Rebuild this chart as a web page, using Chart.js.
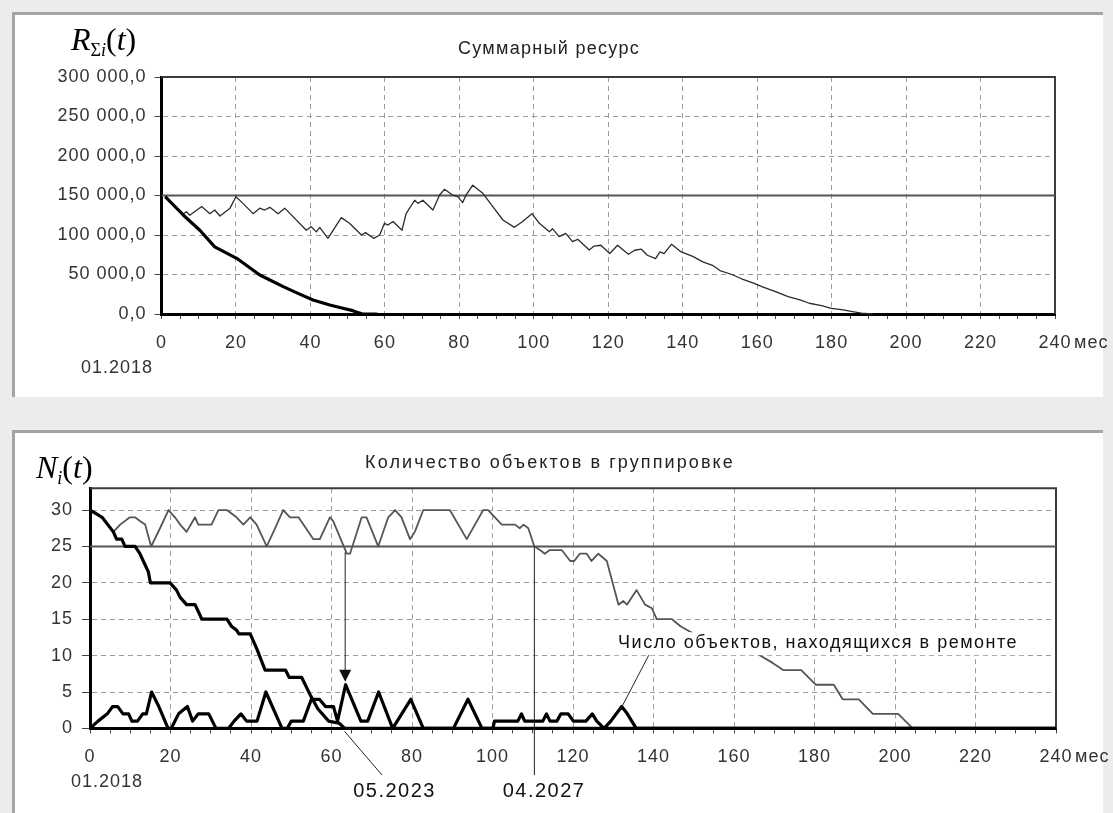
<!DOCTYPE html>
<html lang="ru">
<head>
<meta charset="utf-8">
<title>Суммарный ресурс / Количество объектов в группировке</title>
<script src="https://cdn.jsdelivr.net/npm/chart.js@4.4.1/dist/chart.umd.min.js"></script>
<style>
  html, body { margin: 0; padding: 0; }
  body { width: 1113px; height: 813px; background: #ececec; position: relative; overflow: hidden;
         font-family: "Liberation Sans", Arial, sans-serif; }
  .panel { position: absolute; left: 12px; width: 1091px; background: #fff; box-sizing: border-box;
           border-top: 3px solid #a4a4a4; border-left: 3px solid #a4a4a4; }
  #panelTop { top: 12px; height: 385px; }
  #panelBottom { top: 430px; height: 383px; }
  .box { position: absolute; left: 15px; width: 1098px; }
  #boxTop { top: 15px; height: 382px; }
  #boxBottom { top: 433px; height: 377px; }
  .title { position: absolute; font-size: 18px; line-height: 1; color: #222; white-space: nowrap;
           transform: translateX(-50%); }
  .math { position: absolute; font-family: "Liberation Serif", "Times New Roman", serif; font-size: 32px;
          line-height: 1; color: #000; white-space: nowrap; }
  .math sub { font-size: 18px; vertical-align: -6px; line-height: 0; }
</style>
</head>
<body>
<div class="panel" id="panelTop"></div>
<div class="panel" id="panelBottom"></div>
<div class="box" id="boxTop"><canvas id="resChart"></canvas></div>
<div class="box" id="boxBottom"><canvas id="grpChart"></canvas></div>

<div class="title" style="left:549px; top:39px; letter-spacing:1.3px">Суммарный ресурс</div>
<div class="title" style="left:550px; top:453px; letter-spacing:2.1px">Количество объектов в группировке</div>
<div class="math" style="left:71px; top:23px"><i>R</i><sub>Σ<i>i</i></sub>(<i>t</i>)</div>
<div class="math" style="left:36px; top:451px"><i>N</i><sub><i>i</i></sub>(<i>t</i>)</div>

<script>
// ── data (months since 01.2018) ──────────────────────────────
// top panel: total resource
const resTotal = [[1,148500],[5.9,127000],[6.7,129500],[7.6,125000],[10.8,136000],[13,127000],[14.3,131600],
  [15.7,124000],[18.4,134000],[20,148500],[21.9,140000],[24.6,127000],[26.4,134000],[27.7,131600],[29.1,135000],
  [31.3,127000],[33.1,134000],[38.9,106000],[40.2,110500],[41.6,104000],[42.5,109700],[44.7,95800],[48.3,122000],
  [50.5,114800],[53.7,100000],[54.8,103000],[57,95800],[58.6,100000],[59.9,114800],[60.8,112600],[62.2,117000],
  [64.6,106000],[65.7,127000],[68,144000],[68.9,140000],[70.2,144000],[72.9,131600],[74.7,150600],[76,157800],
  [78.2,150600],[79.6,148500],[80.9,141000],[81.8,150600],[83.6,163000],[86.3,152700],[89,135800],[91.7,119000],
  [94.8,109700],[97,117000],[99.5,127000],[101.5,114800],[104.2,104000],[105,108000],[106.8,97900],[108.6,102000],
  [110.4,91500],[111.8,94500],[114.9,81000],[116.2,86000],[118,87000],[120.4,76500],[122.5,87000],[125.4,75600],
  [127.1,80700],[128.9,82000],[130.5,74400],[132.7,70000],[133.9,78600],[135,76500],[137,88400],[139.6,78600],
  [142.7,73000],[145.4,66000],[148,61600],[150,55000],[153.2,50000],[155.8,44600],[159,39000],[161.6,34000],
  [165.3,27600],[168.3,22000],[171.5,17800],[174,13600],[177.3,10600],[179.9,7200],[183.1,5100],[185.6,3000],
  [188,1000],[191,0]];
const resFleet = [[1,148500],[5.9,125000],[10.3,106000],[14.3,85000],[20.2,70500],[26.4,49400],[32.7,34600],
  [36.2,27000],[40.7,17700],[45.2,11400],[48.7,7200],[51.4,4200],[52.8,1700],[54,0],[58,0]];
const resLimit = 150000;

// bottom panel: number of objects
const grpCount = [[0,30],[1.5,29.5],[3,29],[5.8,27],[7.5,28],[9.9,29],[11.2,29],[12.4,28.5],[13.7,28],[15.2,25],
  [17.4,27.5],[19.5,30],[21.1,29],[22.4,28],[24,27],[26.1,29],[26.9,28],[30.2,28],[31.9,30],[34,30],[36.4,29],
  [38.1,28],[39.8,29],[41.4,28],[43.9,25],[46,27.5],[48,30],[49.7,29],[51.8,29],[55.5,26],[57.1,26],[59.6,29],
  [60.4,28.5],[63.8,24],[64.6,24],[67.5,29],[68.7,29],[71.6,25],[74.1,29],[75.8,30],[77.4,29],[79.5,26],[80.7,27],
  [82.8,30],[89.4,30],[93.6,26],[97.7,30],[98.9,30],[100.6,29],[102.3,28],[105.6,28],[106.8,27.5],[107.7,28],
  [108.9,27.5],[110.4,25],[111.8,24.5],[113,24],[114.2,24.5],[117.2,24.5],[119.3,23],[120.3,23],[121.7,24],
  [123.4,24],[124.6,23],[126.3,24],[128.4,23],[131.3,17],[132.5,17.5],[133.4,17],[135.8,19],[137.9,17],
  [139.6,16.5],[140.8,15],[144.6,15],[146.8,14],[150,13],[155,12],[160,11.5],[165,10.5],[169.6,9],[172.3,8],
  [176.7,8],[180.3,6],[184.8,6],[187,4],[191,4],[194.5,2],[200.8,2],[202.6,1],[204.4,0]];
const baseCount = [[0,30],[1.5,29.5],[3,29],[5.8,27],[6.6,26],[7.9,26],[8.7,25],[11.2,25],[12.4,24],[14.5,21.5],
  [15,20],[19.9,20],[21.5,19],[22.4,18],[24,17],[26.1,17],[27.8,15],[34,15],[35.2,14],[36.4,13.5],[37,13],
  [39.8,13],[41.4,11],[43.5,8],[48.6,8],[49.5,7],[52.6,7],[54.8,4.5],[56.6,2.7],[59.3,1],[61.9,0.7],[63.3,0],[240,0]];
const repCount = [[0,0],[2,1],[4.3,2],[5.6,3],[6.9,3],[8.2,2],[9.6,2],[10.4,1],[11.8,1],[13.1,2],[14,2],[15.3,5],
  [17.1,3],[19.4,0],[20.2,0],[22,2],[24.2,3],[25.5,1],[26.9,2],[29.5,2],[31.3,0],[34.4,0],[35.8,1],[37.5,2],
  [38.9,1],[41.5,1],[43.7,5],[47.7,0],[49,0],[50,1],[53,1],[55,4],[57,4],[58.5,3],[60.5,3],[61.5,1],[63.5,6],
  [67.3,1],[69,1],[71.7,5],[75.2,0],[79.7,4],[82.8,0],[90.3,0],[93.9,4],[97.4,0],[100.1,0],[100.5,1],[106.3,1],
  [107.2,2],[108,1],[112.5,1],[113.4,2],[114.3,1],[116,1],[117,2],[118.8,2],[120.1,1],[123.2,1],[124.8,2],
  [125.9,1],[127.7,0],[129.4,1],[132.1,3],[133.5,2],[135.7,0],[240,0]];
const grpLimit = 25;

// axis and notes
const monthMax = 240;
const startLabel = '01.2018';
const unitLabel = 'мес';
const arrowMark = { t: 63.4, from: 24.2, to: 6.4 };
const dateMarks = [{ t: 63.25, label: '05.2023' }, { t: 110.4, label: '04.2027' }];
const repairNote = { t: 131.7, v: 2.5, label: 'Число объектов, находящихся в ремонте' };

// ── helpers ───────────────────────────────────────────────────
const pts = arr => arr.map(([x, y]) => ({ x, y }));
const flat = v => [[0, v], [monthMax, v]];
const fmtRes = v => String(v).replace(/\B(?=(\d{3})+(?!\d))/g, ' ') + ',0';
const FONT = '"Liberation Sans", Arial, sans-serif';
const TICK_FONT = { family: FONT, size: 18 };
const GRID = '#9c9c9c';

function line(ctx, x1, y1, x2, y2) {
  ctx.beginPath(); ctx.moveTo(x1, y1); ctx.lineTo(x2, y2); ctx.stroke();
}

function xAxis() {
  return {
    type: 'linear', min: 0, max: monthMax,
    afterFit: s => { s.height = 40; },
    ticks: { stepSize: 5, autoSkip: false, maxRotation: 0, padding: 13, color: '#333', font: TICK_FONT,
             callback: v => (v % 20 === 0 ? String(v) : '') },
    grid: { color: c => (c.tick && c.tick.value % 20 === 0 ? GRID : 'rgba(0,0,0,0)'),
            tickColor: '#444', tickLength: 5 },
    border: { color: '#000', width: 3, dash: [5, 4] },
  };
}

function series(data, color, width) {
  return { data: pts(data), borderColor: color, borderWidth: width, pointRadius: 0, tension: 0,
           fill: false, borderJoinStyle: 'round', clip: 6 };
}

// frame, unit and start date – same for both panels
function frame(startDx) {
  return {
    id: 'frame',
    beforeDraw(c) { c.ctx.letterSpacing = '1px'; },
    beforeDatasetsDraw(c) {
      const { ctx, chartArea: a } = c;
      ctx.save();
      ctx.strokeStyle = '#3c3c3c'; ctx.lineWidth = 2;
      ctx.beginPath(); ctx.moveTo(a.left, a.top); ctx.lineTo(a.right, a.top); ctx.lineTo(a.right, a.bottom);
      ctx.stroke();
      ctx.restore();
    },
    afterDraw(c) {
      const { ctx, chartArea: a, scales: { x } } = c;
      ctx.save();
      ctx.font = '18px ' + FONT; ctx.fillStyle = '#333'; ctx.textBaseline = 'middle';
      ctx.textAlign = 'left';
      ctx.fillText(unitLabel, x.getPixelForValue(monthMax) + 19, a.bottom + 29);
      ctx.textAlign = 'center';
      ctx.fillText(startLabel, x.getPixelForValue(0) + startDx, a.bottom + 54);
      ctx.restore();
    },
  };
}

// arrow, date pointers and the repair label of the bottom panel
const notes = {
  id: 'notes',
  afterDatasetsDraw(c) {
    const { ctx, chartArea: a, scales: { x, y } } = c;
    ctx.save();
    ctx.strokeStyle = '#222'; ctx.fillStyle = '#111'; ctx.lineWidth = 1;

    const ax = x.getPixelForValue(arrowMark.t);
    const ay = y.getPixelForValue(arrowMark.to);
    line(ctx, ax, y.getPixelForValue(arrowMark.from), ax, ay - 11);
    ctx.beginPath(); ctx.moveTo(ax - 6, ay - 12); ctx.lineTo(ax + 6, ay - 12); ctx.lineTo(ax, ay); ctx.closePath();
    ctx.fill();

    ctx.font = '20px ' + FONT; ctx.letterSpacing = '1.5px';
    ctx.textAlign = 'center'; ctx.textBaseline = 'middle';
    const m0 = x.getPixelForValue(dateMarks[0].t);
    line(ctx, m0, a.bottom + 3, m0 + 37.4, a.bottom + 46.6);
    ctx.fillText(dateMarks[0].label, m0 + 50, a.bottom + 62.6);
    const m1 = x.getPixelForValue(dateMarks[1].t);
    line(ctx, m1, y.getPixelForValue(grpLimit), m1, a.bottom + 46.6);
    ctx.fillText(dateMarks[1].label, m1 + 9.7, a.bottom + 62.6);

    const px = x.getPixelForValue(repairNote.t), py = y.getPixelForValue(repairNote.v);
    const ex = px + 28.7, ey = py - 55;
    ctx.fillStyle = '#fff';
    ctx.fillRect(ex - 34.7, ey - 23, 410, 23);
    line(ctx, px, py, ex, ey);
    ctx.fillStyle = '#111'; ctx.font = '18px ' + FONT; ctx.textAlign = 'left';
    ctx.fillText(repairNote.label, ex - 30.7, ey - 12);
    ctx.restore();
  },
};

// ── top chart: total resource ─────────────────────────────────
new Chart(document.getElementById('resChart'), {
  type: 'line',
  data: { datasets: [
    series(resFleet, '#000', 3.2),
    series(resTotal, '#2b2b2b', 1.3),
    series(flat(resLimit), '#555', 2),
  ] },
  plugins: [frame(-44.5)],
  options: {
    responsive: true, maintainAspectRatio: false, animation: false,
    layout: { padding: { top: 62, right: 58, bottom: 43, left: 0 } },
    plugins: { legend: { display: false }, tooltip: { enabled: false } },
    scales: {
      x: xAxis(),
      y: {
        min: 0, max: 300000,
        afterFit: s => { s.width = 146.5; },
        ticks: { stepSize: 50000, padding: 8, color: '#333', font: TICK_FONT, callback: fmtRes },
        grid: { color: GRID, tickColor: '#444', tickLength: 7 },
        border: { color: '#000', width: 3, dash: [5, 4] },
      },
    },
  },
});

// ── bottom chart: objects in the group ────────────────────────
new Chart(document.getElementById('grpChart'), {
  type: 'line',
  data: { datasets: [
    series(repCount, '#000', 3.2),
    series(baseCount, '#000', 3.2),
    series(grpCount, '#555', 1.8),
    series(flat(grpLimit), '#555', 2),
  ] },
  plugins: [frame(17), notes],
  options: {
    responsive: true, maintainAspectRatio: false, animation: false,
    layout: { padding: { top: 55.2, right: 57, bottom: 41.6, left: 0 } },
    plugins: { legend: { display: false }, tooltip: { enabled: false } },
    scales: {
      x: xAxis(),
      y: {
        min: 0, max: 33,
        afterFit: s => { s.width = 75; },
        ticks: { stepSize: 5, includeBounds: false, padding: 9, color: '#333', font: TICK_FONT },
        grid: { color: GRID, tickColor: '#444', tickLength: 8 },
        border: { color: '#000', width: 3, dash: [5, 4] },
      },
    },
  },
});
</script>
</body>
</html>
